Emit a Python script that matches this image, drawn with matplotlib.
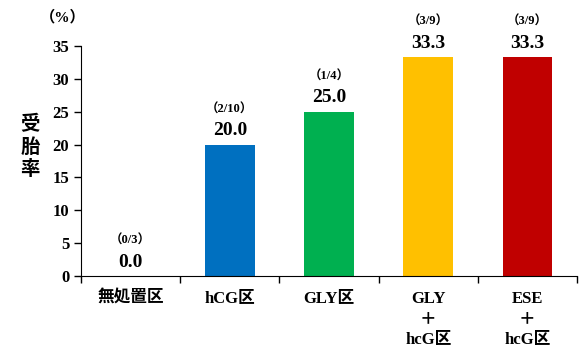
import matplotlib.pyplot as plt
import numpy as np

# 受胎率 by treatment group
groups = ['無処置区', 'hCG区', 'GLY区', 'GLY\n＋\nhcG区', 'ESE\n＋\nhcG区']
rates = [0.0, 20.0, 25.0, 33.3, 33.3]
counts = ['（0/3）', '（2/10）', '（1/4）', '（3/9）', '（3/9）']
colors = ['#FFFFFF', '#0070C0', '#00B050', '#FFC000', '#C00000']

fam = ['Liberation Serif', 'Noto Sans CJK JP']

fig = plt.figure(figsize=(5.79, 3.49), dpi=100)
ax = fig.add_axes([0.140, 0.209, 0.8565, 0.659])

x = np.arange(len(groups))
ax.bar(x, rates, width=0.5, color=colors)

for i, (r, c) in enumerate(zip(rates, counts)):
    ax.annotate(f'{r:.1f}', (i, r), xytext=(0, 4), textcoords='offset points',
                ha='center', va='bottom', fontsize=14, fontweight='bold', family=fam)
    ax.annotate(c, (i, r), xytext=(0, 21), textcoords='offset points',
                ha='center', va='bottom', fontsize=9, fontweight='bold', family=fam)

ax.set_xlim(-0.5, len(groups) - 0.5)
ax.set_ylim(0, 35)
ax.set_yticks(np.arange(0, 36, 5))
ax.set_xticks(np.arange(-0.5, len(groups), 1.0))
ax.set_xticklabels([])
ax.tick_params(axis='x', direction='out', length=5, width=1)
ax.tick_params(axis='y', direction='out', length=5, width=1, labelsize=12)
for lab in ax.get_yticklabels():
    lab.set_fontfamily(fam)
    lab.set_fontweight('bold')

for i, g in enumerate(groups):
    ax.text(i, -2.2, g, ha='center', va='top', fontsize=12, fontweight='bold',
            family=fam, linespacing=1.38)

for s in ['top', 'right']:
    ax.spines[s].set_visible(False)

fig.text(0.108, 0.95, '（%）', ha='center', va='center', fontsize=11,
         fontweight='bold', family=fam)
fig.text(0.052, 0.579, '受\n胎\n率', ha='center', va='center', fontsize=14,
         fontweight='bold', family=['Noto Sans CJK JP'], linespacing=1.25)

fig.savefig('out.png', dpi=100)
